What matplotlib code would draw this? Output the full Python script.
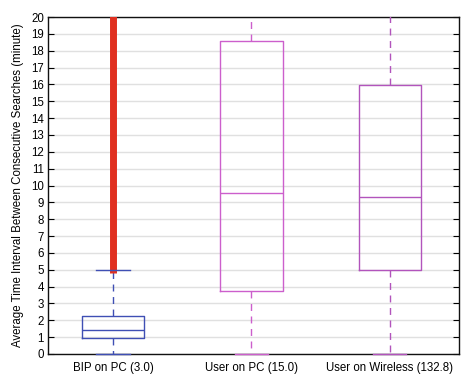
import matplotlib
matplotlib.use("Agg")
import matplotlib.pyplot as plt

categories = ["BIP on PC (3.0)", "User on PC (15.0)", "User on Wireless (132.8)"]
q1 = [0.95, 3.76, 5.0]
med = [1.42, 9.57, 9.32]
q3 = [2.27, 18.6, 15.94]
whislo = [0.0, 0.0, 0.0]
whishi = [5.0, 21.0, 21.0]
outlier_lo = [4.8, None, None]
outlier_hi = [20.1, None, None]
colors = ["#3f4fb4", "#cc5fcc", "#b254bc"]
yticks = list(range(0, 21))

plt.rcParams['font.family'] = ['Liberation Sans', 'DejaVu Sans']
fig = plt.figure(figsize=(4.66, 3.77), dpi=100)
ax = fig.add_axes([48/466, 1 - 354/377, 411/466, 337/377])

stats = []
for i, c in enumerate(categories):
    stats.append(dict(label=c, q1=q1[i], med=med[i], q3=q3[i],
                      whislo=whislo[i], whishi=whishi[i], fliers=[]))

positions = [1, 2, 3]
for i, s in enumerate(stats):
    col = colors[i]
    art = ax.bxp([s], positions=[positions[i]], widths=0.45, showfliers=False,
                 boxprops=dict(color=col, linewidth=1.0),
                 medianprops=dict(color=col, linewidth=1.0),
                 whiskerprops=dict(color=col, linewidth=1.0, linestyle=(0, (5, 4))),
                 capprops=dict(color=col, linewidth=1.0),
                 capwidths=0.24, zorder=3)
    for cap in art['caps']:
        if cap.get_ydata()[0] <= 20:
            cap.set_clip_on(False)
            cap.set_zorder(5)
    if outlier_lo[i] is not None:
        ax.vlines(positions[i], outlier_lo[i], outlier_hi[i], color="#e03020",
                  linewidth=5, zorder=4)

ax.set_xlim(0.53, 3.5)
ax.set_ylim(0, 20)
ax.set_yticks(yticks)
ax.set_xticks(positions)
ax.set_xticklabels(categories, fontsize=8.3)
ax.tick_params(axis='x', length=0, pad=6)
ax.tick_params(axis='y', direction='in', length=4, left=True, right=True,
               labelsize=8.3, pad=3)
ax.yaxis.grid(True, color="#e0e0e0", linewidth=1.0)
ax.set_axisbelow(True)
for sp in ax.spines.values():
    sp.set_linewidth(1.0)
    sp.set_color("#111111")
ax.set_ylabel("Average Time Interval Between Consecutive Searches (minute)",
              fontsize=8.3, labelpad=5)

fig.savefig("out.png", dpi=100)
